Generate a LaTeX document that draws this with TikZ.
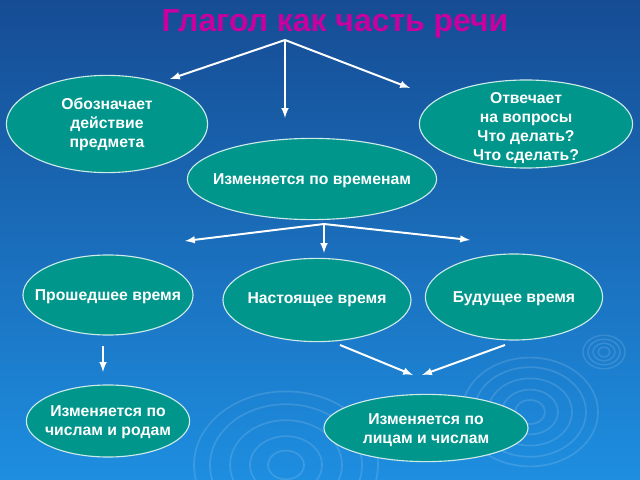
\documentclass[tikz,border=0pt]{standalone}
\usepackage{fontspec}
\setmainfont{Liberation Sans}
\usepackage{xcolor}
\usetikzlibrary{shapes.geometric}

\definecolor{slidetop}{RGB}{22,76,148}
\definecolor{slidebottom}{RGB}{30,142,224}
\definecolor{ovalfill}{RGB}{0,150,140}
\definecolor{titlecolor}{RGB}{200,0,160}

\begin{document}
\begin{tikzpicture}[x=0.025cm, y=-0.025cm,
    oval/.style={ellipse, draw=white!80!ovalfill, line width=0.8pt,
      fill=ovalfill, inner sep=0pt},
    ovaltext/.style={text=white, align=center, inner sep=0pt,
      font=\bfseries\fontsize{11.2}{13.6}\selectfont},
    link/.style={->, >=latex, white, line width=1.4pt}]
  \def \faint {0.13}

  % background
  \useasboundingbox (0,0) rectangle (640,480);
  \shade[top color=slidetop, bottom color=slidebottom] (0,0) rectangle (640,480);
  \foreach \r in {6,11,16,21}
    \draw[white, opacity=\faint, line width=1pt] (604,352) ellipse ({\r} and {0.8*\r});
  \foreach \r in {15,28,42,56,68}
    \draw[white, opacity=\faint, line width=1.2pt] (530,412) ellipse ({\r} and {0.8*\r});
  \foreach \r in {18,36,56,76,92}
    \draw[white, opacity=\faint, line width=1.2pt] (286,465) ellipse ({\r} and {0.8*\r});

  % title
  \node[text=titlecolor, font=\bfseries\fontsize{22.7}{26}\selectfont] (title) at (335,24)
    {Глагол как часть речи};

  % ovals
  \node[oval, minimum width=5.03cm, minimum height=2.43cm,
    label={[ovaltext]center:{Обозначает\\действие\\предмета}}] (action) at (107,124) {};
  \node[oval, minimum width=5.33cm, minimum height=2.2cm,
    label={[ovaltext, yshift=-0.1cm]center:{Отвечает\\на вопросы\\Что делать?\\Что сделать?}}]
    (questions) at (526,124) {};
  \node[oval, minimum width=6.23cm, minimum height=2.03cm,
    label={[ovaltext, yshift=-0.05cm]center:Изменяется по временам}] (tenses) at (312,179) {};
  \node[oval, minimum width=4.25cm, minimum height=2cm,
    label={[ovaltext, yshift=-0.05cm]center:Прошедшее время}] (past) at (108,295) {};
  \node[oval, minimum width=4.7cm, minimum height=2.08cm,
    label={[ovaltext]center:Настоящее время}] (present) at (317,300) {};
  \node[oval, minimum width=4.43cm, minimum height=2.15cm,
    label={[ovaltext, yshift=-0.05cm]center:Будущее время}] (future) at (514,297) {};
  \node[oval, minimum width=4.08cm, minimum height=1.8cm,
    label={[ovaltext, yshift=-0.02cm]center:{Изменяется по\\числам и родам}}] (gender) at (108,421) {};
  \node[oval, minimum width=5.1cm, minimum height=1.68cm,
    label={[ovaltext, yshift=-0.05cm]center:{Изменяется по\\лицам и числам}}] (person) at (426,428) {};

  % connectors
  \coordinate (fork1) at (285,40);
  \coordinate (fork2) at (324,224);
  \coordinate (a1) at (170,79);
  \coordinate (a2) at (285,118);
  \coordinate (a3) at (410,88);
  \coordinate (b1) at (185,241);
  \coordinate (b2) at (324,253);
  \coordinate (b3) at (470,240);
  \coordinate (c0) at (103,346);
  \coordinate (c1) at (103,372);
  \coordinate (d0) at (340,345);
  \coordinate (d1) at (413,375);
  \coordinate (e0) at (505,345);
  \coordinate (e1) at (422,375);

  \draw[link] (fork1) -- (a1);
  \draw[link] (fork1) -- (a2);
  \draw[link] (fork1) -- (a3);
  \draw[link] (fork2) -- (b1);
  \draw[link] (fork2) -- (b2);
  \draw[link] (fork2) -- (b3);
  \draw[link] (c0) -- (c1);
  \draw[link] (d0) -- (d1);
  \draw[link] (e0) -- (e1);
\end{tikzpicture}
\end{document}
